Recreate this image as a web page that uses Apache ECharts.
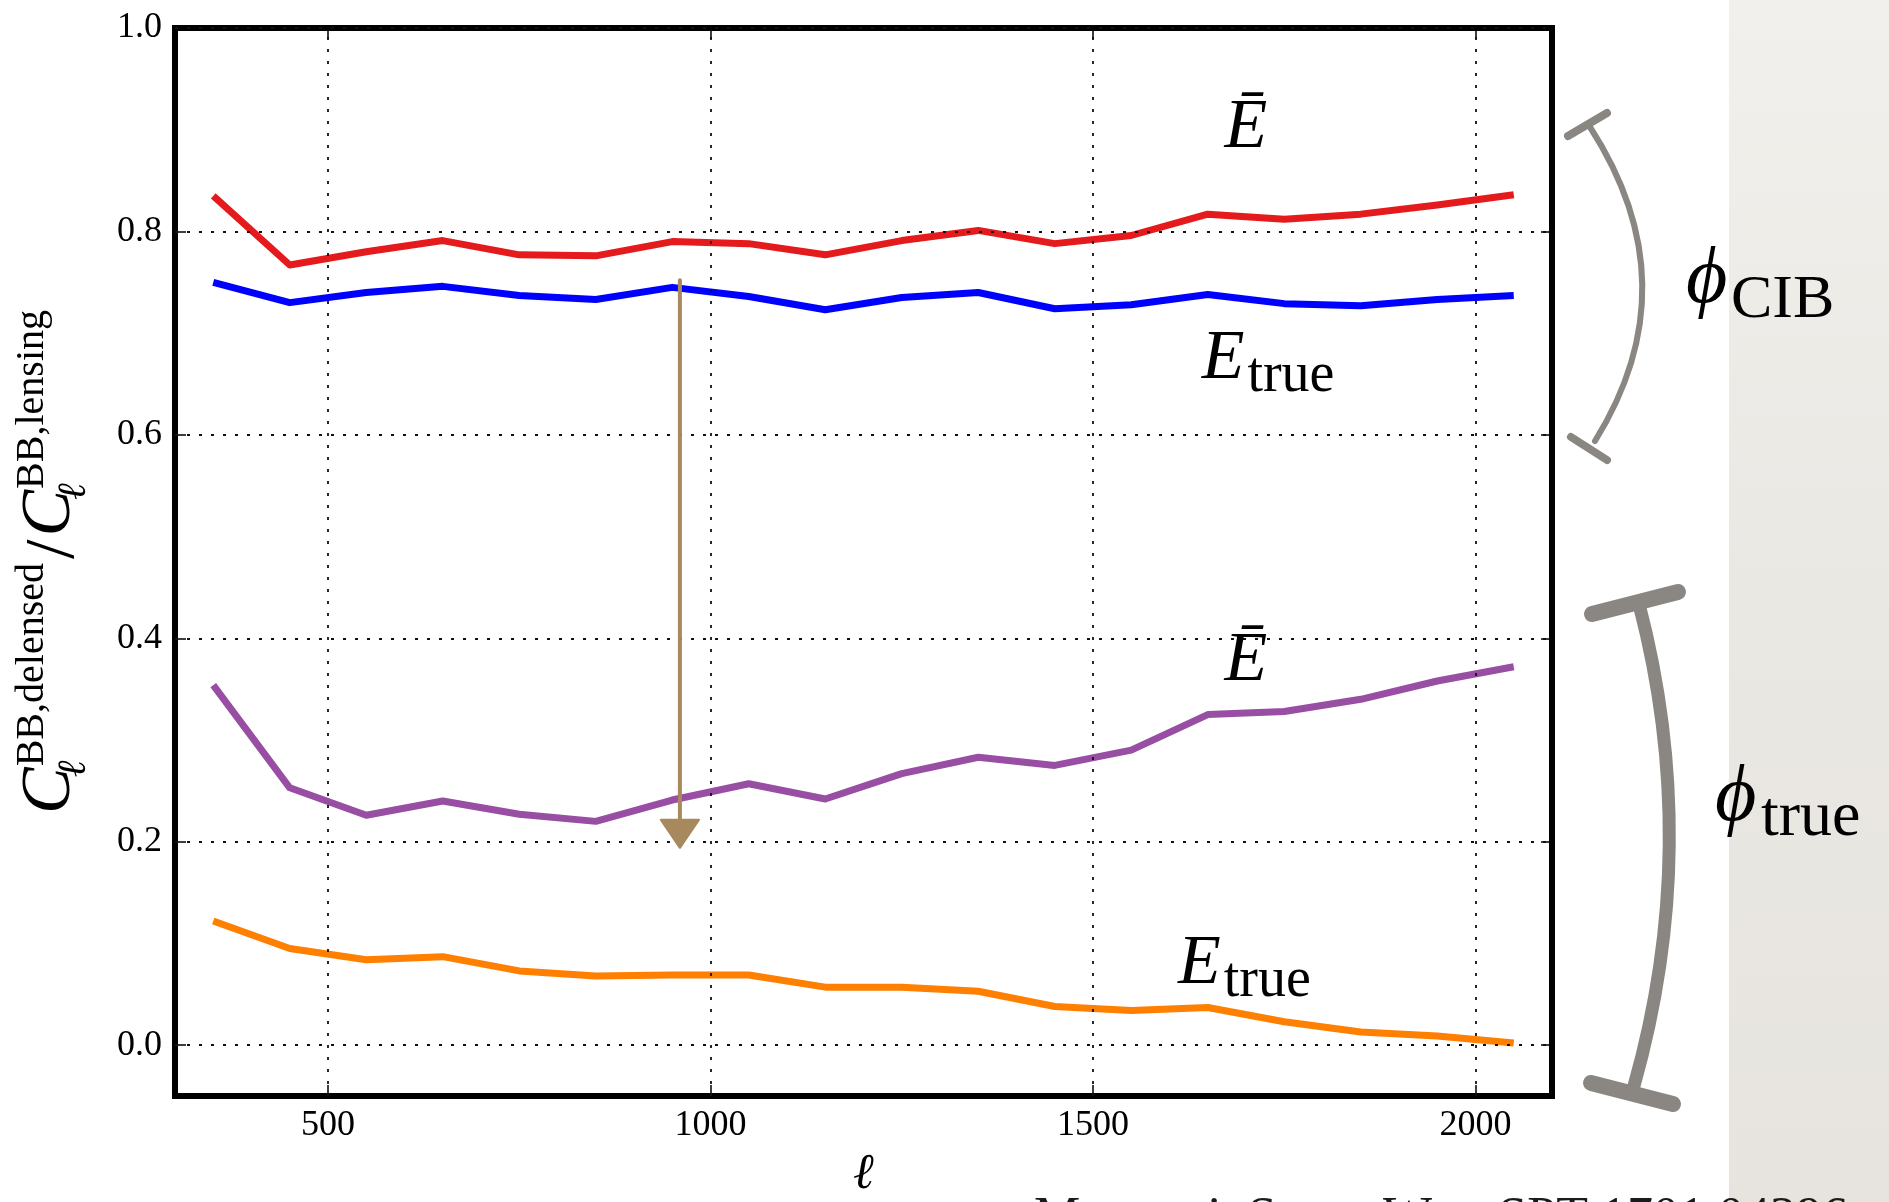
<!DOCTYPE html>
<html>
<head>
<meta charset="utf-8">
<script src="https://cdn.jsdelivr.net/npm/echarts@6/dist/echarts.min.js"></script>
<style>
  html, body { margin: 0; padding: 0; background: #ffffff; }
  #chart { width: 1889px; height: 1202px; }
</style>
</head>
<body>
<div id="chart"></div>
<script>
// Multipole bins (ell) and delensed / lensing BB power ratios
const ells = [350, 450, 550, 650, 750, 850, 950, 1050, 1150, 1250, 1350, 1450, 1550, 1650, 1750, 1850, 1950, 2050];
const ebarCib   = [0.835, 0.767, 0.780, 0.791, 0.777, 0.776, 0.790, 0.788, 0.777, 0.791, 0.801, 0.788, 0.796, 0.817, 0.812, 0.817, 0.826, 0.836];
const etrueCib  = [0.750, 0.730, 0.740, 0.746, 0.737, 0.733, 0.745, 0.736, 0.723, 0.735, 0.740, 0.724, 0.728, 0.738, 0.729, 0.727, 0.733, 0.737];
const ebarTrue  = [0.354, 0.253, 0.226, 0.240, 0.227, 0.220, 0.241, 0.257, 0.242, 0.267, 0.283, 0.275, 0.290, 0.325, 0.328, 0.340, 0.358, 0.372];
const etrueTrue = [0.122, 0.095, 0.084, 0.087, 0.073, 0.068, 0.069, 0.069, 0.057, 0.057, 0.053, 0.038, 0.034, 0.037, 0.023, 0.013, 0.009, 0.002];
const xTicks = [500, 1000, 1500, 2000];
const yTicks = [0.0, 0.2, 0.4, 0.6, 0.8, 1.0];

// Curve labels, anchored in data coordinates
const curveNotes = [
  { kind: 'bar',  x: 1700, y: 0.878 },
  { kind: 'true', x: 1642, y: 0.651 },
  { kind: 'bar',  x: 1700, y: 0.354 },
  { kind: 'true', x: 1611, y: 0.056 }
];
// Arrow from E_true (phi_CIB) down to E-bar (phi_true)
const arrowEll = 960, arrowFrom = 0.752, arrowTo = 0.194;

const SERIF = "'Liberation Serif','DejaVu Serif',serif";
const chart = echarts.init(document.getElementById('chart'), null, { renderer: 'canvas' });

const measureCtx = document.createElement('canvas').getContext('2d');
function measure(str, size, italic) {
  measureCtx.font = (italic ? 'italic ' : '') + size + 'px ' + SERIF;
  return measureCtx.measureText(str).width;
}
// text placed by its baseline
function txt(str, x, base, size, o) {
  o = o || {};
  return {
    type: 'text', x: x, y: base - 0.34 * size, z: o.z || 20, silent: true,
    style: {
      text: str, fill: o.color || '#000',
      font: (o.italic ? 'italic ' : '') + size + 'px ' + SERIF,
      align: o.align || 'left', verticalAlign: 'middle'
    }
  };
}

function curve(name, vals, color) {
  return {
    name: name, type: 'line', data: ells.map((x, i) => [x, vals[i]]),
    showSymbol: false, symbol: 'none', silent: true, z: 3,
    lineStyle: { color: color, width: 7, join: 'round' },
    itemStyle: { color: color }
  };
}

const tickStyle = { color: '#000', width: 1.5 };
const labelStyle = { fontFamily: SERIF, fontSize: 36, color: '#000' };
const hiddenLine = { show: false, onZero: false };

chart.setOption({
  animation: false,
  backgroundColor: '#ffffff',
  grid: {
    left: 175, top: 28, width: 1377, height: 1068,
    outerBoundsMode: 'none', containLabel: false,
    show: true, borderColor: '#000', borderWidth: 6, backgroundColor: 'transparent'
  },
  xAxis: [
    {
      type: 'value', min: 300, max: 2100, position: 'bottom',
      axisLine: hiddenLine,
      axisTick: { show: true, inside: true, length: 11, customValues: xTicks, lineStyle: tickStyle },
      axisLabel: Object.assign({ customValues: xTicks, margin: 12, formatter: v => String(v) }, labelStyle),
      splitLine: { show: false },
      name: 'ℓ', nameLocation: 'middle', nameGap: 54,
      nameTextStyle: { fontFamily: SERIF, fontStyle: 'italic', fontSize: 50, color: '#000' }
    },
    {
      type: 'value', min: 300, max: 2100, position: 'top',
      axisLine: hiddenLine,
      axisTick: { show: true, inside: true, length: 11, customValues: xTicks, lineStyle: tickStyle },
      axisLabel: { show: false }, splitLine: { show: false }
    }
  ],
  yAxis: [
    {
      type: 'value', min: -0.05, max: 1.0, position: 'left',
      axisLine: hiddenLine,
      axisTick: { show: true, inside: true, length: 11, customValues: yTicks, lineStyle: tickStyle },
      axisLabel: Object.assign({ customValues: yTicks, margin: 13, formatter: v => v.toFixed(1) }, labelStyle),
      splitLine: { show: false }
    },
    {
      type: 'value', min: -0.05, max: 1.0, position: 'right',
      axisLine: hiddenLine,
      axisTick: { show: true, inside: true, length: 11, customValues: yTicks, lineStyle: tickStyle },
      axisLabel: { show: false }, splitLine: { show: false }
    }
  ],
  series: [
    {
      name: 'grid', type: 'line', data: [], z: 1, silent: true,
      markLine: {
        silent: true, symbol: ['none', 'none'], animation: false,
        label: { show: false },
        lineStyle: { color: '#111', width: 1.8, type: [3, 9] },
        emphasis: { disabled: true },
        data: xTicks.map(v => ({ xAxis: v })).concat(yTicks.map(v => ({ yAxis: v })))
      }
    },
    curve('Ebar phi_CIB', ebarCib, '#e41a1c'),
    curve('Etrue phi_CIB', etrueCib, '#0000ff'),
    curve('Ebar phi_true', ebarTrue, '#984ea3'),
    curve('Etrue phi_true', etrueTrue, '#ff7f00')
  ]
});

const px = (x, y) => chart.convertToPixel({ gridIndex: 0 }, [x, y]);
const g = [];

// light panel on the right edge
g.push({
  type: 'rect', z: 0, silent: true,
  shape: { x: 1729, y: 0, width: 160, height: 1202 },
  style: { fill: new echarts.graphic.LinearGradient(0, 0, 0, 1, [
    { offset: 0, color: '#f2f0ec' }, { offset: 0.5, color: '#eae8e3' }, { offset: 1, color: '#e7e4df' }
  ]) }
});

// curve labels
curveNotes.forEach(n => {
  const p = px(n.x, n.y);
  if (n.kind === 'bar') {
    g.push(txt('Ē', p[0], p[1], 70, { italic: true, align: 'center' }));
  } else {
    g.push(txt('E', p[0], p[1], 70, { italic: true }));
    g.push(txt('true', p[0] + measure('E', 70, true) + 3, p[1] + 12, 56));
  }
});

// y-axis title, built along a baseline then turned upright
(function () {
  const F = 70, S = 40;
  const kids = [];
  let cx = 0;
  function cterm(sup) {
    const wC = measure('C', F, true);
    kids.push(txt('C', cx, 0, F, { italic: true }));
    kids.push(txt('ℓ', cx + wC - 10, 14, S, { italic: true }));
    kids.push(txt(sup, cx + wC + 1, -28, S));
    cx += wC + 1 + measure(sup, S, false);
  }
  cterm('BB,delensed');
  cx += 4;
  kids.push(txt('/', cx, 4, F));
  cx += measure('/', F, false) + 3;
  cterm('BB,lensing');
  g.push({ type: 'group', x: 74, y: 562 + cx / 2, rotation: Math.PI / 2, children: kids });
})();

// arrow
(function () {
  const a = px(arrowEll, arrowFrom), b = px(arrowEll, arrowTo);
  const col = '#a8895e';
  g.push({ type: 'line', z: 15, silent: true,
    shape: { x1: a[0], y1: a[1], x2: b[0], y2: b[1] - 22 },
    style: { stroke: col, lineWidth: 4, lineCap: 'round' } });
  g.push({ type: 'polygon', z: 15, silent: true,
    shape: { points: [[b[0] - 19, b[1] - 28], [b[0] + 19, b[1] - 28], [b[0], b[1]]] },
    style: { fill: col, stroke: col, lineWidth: 2, lineJoin: 'round' } });
})();

// brackets for the two lensing tracers
const grey = '#8a8682';
function seg(x1, y1, x2, y2, w) {
  return { type: 'line', z: 10, silent: true, shape: { x1, y1, x2, y2 },
    style: { stroke: grey, lineWidth: w, lineCap: 'round' } };
}
function arc(x1, y1, cx, cy, x2, y2, w) {
  return { type: 'bezierCurve', z: 10, silent: true,
    shape: { x1, y1, x2, y2, cpx1: cx, cpy1: cy },
    style: { stroke: grey, lineWidth: w, lineCap: 'round', fill: null } };
}
g.push(arc(1590, 127, 1692, 285, 1595, 441, 6));
g.push(seg(1568, 136, 1607, 113, 8));
g.push(seg(1571, 437, 1607, 460, 8));
g.push(arc(1639, 604, 1702, 845, 1634, 1086, 13));
g.push(seg(1592, 614, 1678, 592, 16));
g.push(seg(1591, 1083, 1673, 1104, 16));

g.push(txt('ϕ', 1686, 308, 80, { italic: true, z: 25 }));
g.push(txt('CIB', 1731, 322, 62, { z: 25 }));
g.push(txt('ϕ', 1715, 826, 80, { italic: true, z: 25 }));
g.push(txt('true', 1761, 840, 64, { z: 25 }));

// reference line along the bottom edge
g.push(txt('Manzotti, Story, Wu+ SPT 1701.04396', 1034, 1237, 52, { color: '#1a1a1a', z: 25 }));

chart.setOption({ graphic: { elements: g } });
</script>
</body>
</html>
